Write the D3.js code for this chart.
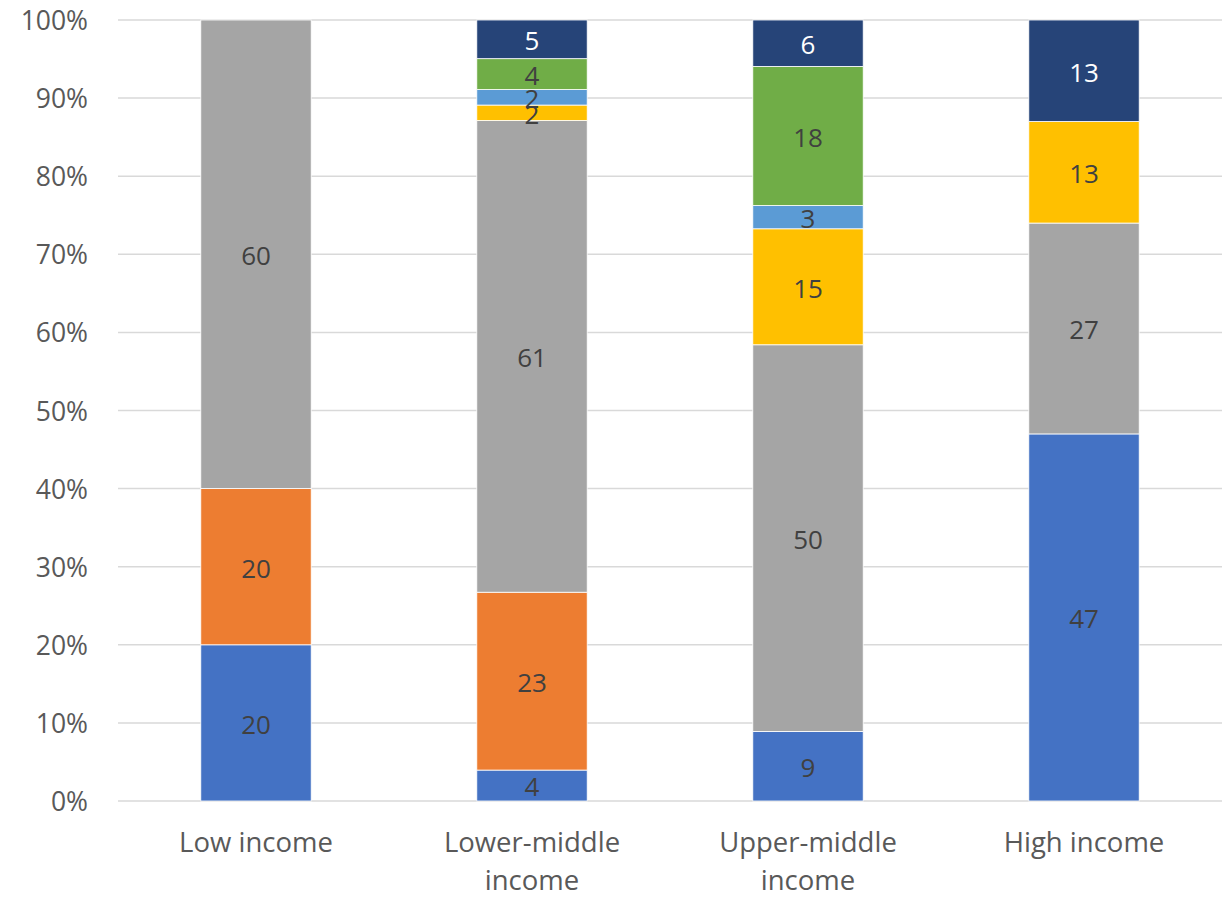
<!DOCTYPE html>
<html>
<head>
<meta charset="utf-8">
<script src="https://cdn.jsdelivr.net/npm/d3@7"></script>
<style>
  html, body { margin: 0; padding: 0; background: #fff; }
  svg { display: block; font-family: "Open Sans", "Noto Sans", sans-serif; }
</style>
</head>
<body>
<svg id="chart" width="1226" height="897"></svg>
<script>
// ---- Data ----
const categories = ["Low income", "Lower-middle income", "Upper-middle income", "High income"];
const categoryLines = [["Low income"], ["Lower-middle", "income"], ["Upper-middle", "income"], ["High income"]];
const seriesKeys = ["Series 1", "Series 2", "Series 3", "Series 4", "Series 5", "Series 6", "Series 7"];
const series1 = [20, 4, 9, 47];
const series2 = [20, 23, 0, 0];
const series3 = [60, 61, 50, 27];
const series4 = [0, 2, 15, 13];
const series5 = [0, 2, 3, 0];
const series6 = [0, 4, 18, 0];
const series7 = [0, 5, 6, 13];
const seriesColors = ["#4472C4", "#ED7D31", "#A5A5A5", "#FFC000", "#5B9BD5", "#70AD47", "#264478"];
const labelColors = ["#404040", "#404040", "#404040", "#404040", "#404040", "#404040", "#FFFFFF"];
const yTicks = [0, 0.1, 0.2, 0.3, 0.4, 0.5, 0.6, 0.7, 0.8, 0.9, 1.0];

(function () {
const allSeries = [series1, series2, series3, series4, series5, series6, series7];
const rows = categories.map((c, i) => {
  const r = { category: c };
  seriesKeys.forEach((k, j) => { r[k] = allSeries[j][i]; });
  return r;
});

// ---- Layout ----
const svg = d3.select("#chart");
const mLeft = 118, mRight = 1222, mTop = 20, mBottom = 801;

const x = d3.scaleBand().domain(categories).range([mLeft, mRight]).paddingInner(0.6).paddingOuter(0.3);
const y = d3.scaleLinear().domain([0, 1]).range([mBottom, mTop]);

// gridlines
svg.append("g").selectAll("line").data(yTicks).join("line")
  .attr("x1", mLeft).attr("x2", mRight)
  .attr("y1", d => y(d)).attr("y2", d => y(d))
  .attr("stroke", "#D9D9D9").attr("stroke-width", 1.5);

// y axis labels
const yAxis = d3.axisLeft(y).tickValues(yTicks).tickFormat(d3.format(".0%")).tickSize(0).tickPadding(0);
const yg = svg.append("g").attr("transform", `translate(88,0)`).call(yAxis);
yg.select(".domain").remove();
yg.selectAll("text").attr("fill", "#595959").style("font-size", "26.5px")
  .style("font-family", "'Open Sans', 'Noto Sans', sans-serif").attr("dy", "0.36em");

// stack
const stack = d3.stack().keys(seriesKeys).offset(d3.stackOffsetExpand);
const stacked = stack(rows);

const layers = svg.append("g").selectAll("g").data(stacked).join("g")
  .attr("fill", (d, i) => seriesColors[i]);

layers.selectAll("rect").data(d => d.map(p => ({ p, key: d.key }))).join("rect")
  .attr("x", d => x(d.p.data.category))
  .attr("width", x.bandwidth())
  .attr("y", d => y(d.p[1]))
  .attr("height", d => Math.max(0, y(d.p[0]) - y(d.p[1])))
  .attr("stroke", "#FFFFFF").attr("stroke-width", 0.8);

// data labels
const labelG = svg.append("g");
stacked.forEach((layer, i) => {
  layer.forEach(p => {
    const v = p.data[layer.key];
    if (!v) return;
    labelG.append("text")
      .attr("x", x(p.data.category) + x.bandwidth() / 2)
      .attr("y", (y(p[0]) + y(p[1])) / 2)
      .attr("dy", "0.42em")
      .attr("text-anchor", "middle")
      .attr("fill", labelColors[i])
      .style("font-size", "26px")
      .text(v);
  });
});

// category labels
const xg = svg.append("g");
categories.forEach((c, i) => {
  const t = xg.append("text")
    .attr("x", x(c) + x.bandwidth() / 2)
    .attr("y", 852)
    .attr("text-anchor", "middle")
    .attr("fill", "#595959")
    .style("font-size", "27.5px");
  categoryLines[i].forEach((line, j) => {
    t.append("tspan").attr("x", x(c) + x.bandwidth() / 2).attr("dy", j === 0 ? 0 : 38).text(line);
  });
});
})();
</script>
</body>
</html>
